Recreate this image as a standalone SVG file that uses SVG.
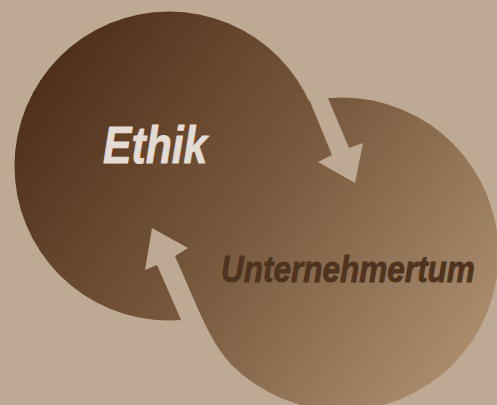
<svg xmlns="http://www.w3.org/2000/svg" width="497" height="405" viewBox="0 0 497 405">
<defs>
<linearGradient id="g" gradientUnits="userSpaceOnUse" x1="60" y1="60" x2="460" y2="360">
<stop offset="0" stop-color="#50301a"/>
<stop offset="0.5" stop-color="#7a5a3e"/>
<stop offset="1" stop-color="#aa8c6d"/>
</linearGradient>
<style>
.lobe{fill:url(#g);}
.arrow{fill:#bea994;stroke:none;}
.lbl{font-family:"Liberation Sans",Arial,sans-serif;font-weight:bold;font-style:italic;stroke-width:0.9;stroke-linejoin:round;}
</style>
</defs>
<rect width="497" height="405" fill="#bea994"/>
<g id="node-ethik">
<circle class="lobe" cx="169" cy="166" r="154.5"/>
<text class="lbl" transform="translate(103,163) scale(0.82,1)" font-size="52" fill="#e4dbd3" stroke="#e4dbd3">Ethik</text>
</g>
<g id="node-unternehmertum">
<circle class="lobe" cx="342" cy="254" r="156.5"/>
<text class="lbl" transform="translate(221,282) scale(0.852,1)" font-size="37" fill="#4e3420" stroke="#4e3420">Unternehmertum</text>
</g>
<g id="connectors">
<path class="arrow" d="M355,183 L318,162 L332,155 L293,60 L312,60 L349,148 L363,143 Z"/>
<path class="arrow" d="M152,228 L188,248 L175,256 L198,309 Q214.7,347.2 230,363 L212,392 L192,345 L157,265 L145,270 Z"/>
</g>
</svg>
